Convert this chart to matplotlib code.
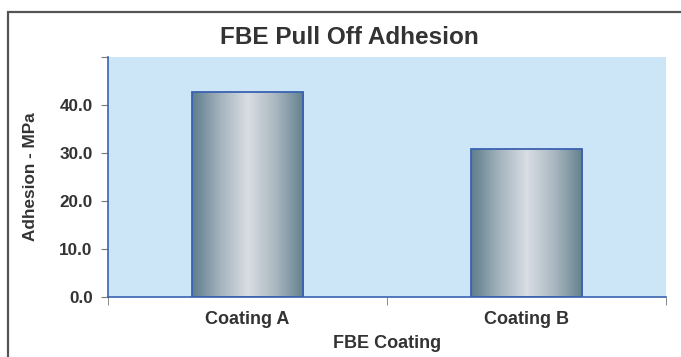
import numpy as np
import matplotlib
matplotlib.use("Agg")
import matplotlib.pyplot as plt
from matplotlib.colors import LinearSegmentedColormap
from matplotlib.patches import Rectangle

categories = ["Coating A", "Coating B"]
adhesion = [42.8, 30.8]
yticks = [0, 10, 20, 30, 40, 50]
ytick_labels = ["0.0", "10.0", "20.0", "30.0", "40.0", ""]

plt.rcParams['font.family'] = ['Liberation Sans', 'DejaVu Sans']
txt = '#333333'

fig = plt.figure(figsize=(6.81, 3.57), dpi=100)
ax = fig.add_axes([108/681, 1 - 296.7/357, (666 - 108)/681, (296.7 - 57.3)/357])

# outer chart border (runs off the right and bottom edge)
fig.patches.append(Rectangle((8/681, -0.2), 1.2, 1 - 12.5/357 + 0.2, transform=fig.transFigure,
                             fill=False, edgecolor='#555555', linewidth=1.6))

ax.set_facecolor('#cce6f8')
x = np.arange(len(categories))
bars = ax.bar(x, adhesion, width=0.4, facecolor='none', edgecolor='#3a62b0', linewidth=1.3, zorder=3)

cmap = LinearSegmentedColormap.from_list('metal', ['#5e7d8c', '#a3b3bd', '#d9dde4', '#a9b7c0', '#62808e'])
grad = np.linspace(0, 1, 256).reshape(1, -1)
for b in bars:
    x0, y0 = b.get_x(), b.get_y()
    w, h = b.get_width(), b.get_height()
    im = ax.imshow(grad, cmap=cmap, extent=[x0, x0 + w, y0, y0 + h], aspect='auto', zorder=2)
    im.set_clip_path(b)

ax.set_xlim(-0.5, len(categories) - 0.5)
ax.set_ylim(0, 50)
ax.set_yticks(yticks)
ax.set_yticklabels(ytick_labels)
ax.set_xticks(x)
ax.set_xticklabels(categories)
ax.set_xticks(np.arange(len(categories) + 1) - 0.5, minor=True)
ax.tick_params(axis='x', which='major', length=0, pad=10)
ax.tick_params(axis='x', which='minor', length=6, color='#777777', direction='out')
ax.tick_params(axis='y', length=5, color='#777777', direction='out', pad=6)
for lab in ax.get_xticklabels():
    lab.set_fontweight('bold')
    lab.set_fontsize(13)
    lab.set_color(txt)
for lab in ax.get_yticklabels():
    lab.set_fontweight('bold')
    lab.set_fontsize(12.3)
    lab.set_color(txt)

for s in ['top', 'right']:
    ax.spines[s].set_visible(False)
for s in ['left', 'bottom']:
    ax.spines[s].set_color('#3a62b0')
    ax.spines[s].set_linewidth(1.2)
    ax.spines[s].set_zorder(4)

ax.set_xlabel("FBE Coating", fontsize=13, fontweight='bold', color=txt, labelpad=5)
ax.set_ylabel("Adhesion - MPa", fontsize=12.3, fontweight='bold', color=txt)
ax.yaxis.set_label_coords((38 - 108) / 558, 0.5)
fig.text(349/681, 1 - 44/357, "FBE Pull Off Adhesion", ha='center', va='baseline',
         fontsize=17.5, fontweight='bold', color=txt)

fig.savefig("out.png", dpi=100)
